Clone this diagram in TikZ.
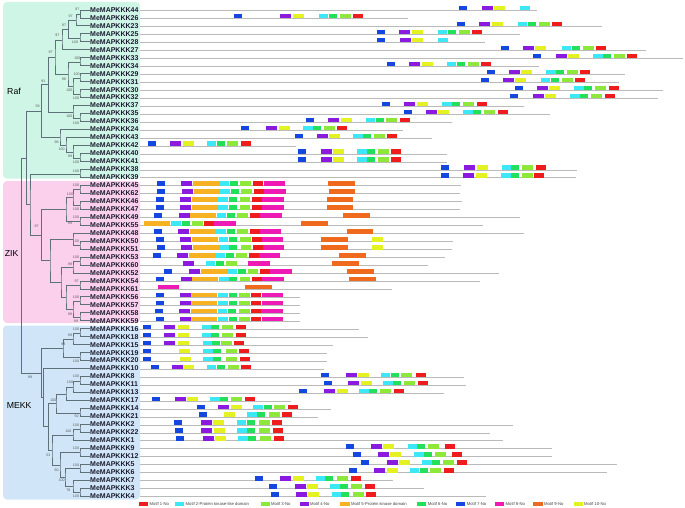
\documentclass[tikz,border=0pt]{standalone}
\usepackage{fontspec}
\setmainfont{Liberation Sans}
\usetikzlibrary{calc}
\definecolor{m1}{HTML}{EE1C1C}
\definecolor{m2}{HTML}{3CE8F5}
\definecolor{m3}{HTML}{8EE83A}
\definecolor{m4}{HTML}{8A1AE0}
\definecolor{m5}{HTML}{F7B223}
\definecolor{m6}{HTML}{22E05A}
\definecolor{m7}{HTML}{1446E0}
\definecolor{m8}{HTML}{EE1AB4}
\definecolor{m9}{HTML}{F06A1E}
\definecolor{m10}{HTML}{E4F222}
\definecolor{rafbg}{HTML}{CFF5E6}
\definecolor{zikbg}{HTML}{FAD0EC}
\definecolor{mekkbg}{HTML}{D0E6F8}
\definecolor{treec}{HTML}{5E7078}
\definecolor{labc}{HTML}{1C1C30}
\pgfmathdeclarefunction{ry}{1}{\pgfmathparse{10.5+(#1-1)*7.97}}
\newcommand\mtf[4]{\ifdim #3pt>0pt \pgfmathsetmacro\yy{10.5+(#2-1)*7.97}\fill[#1] (#3,\yy-4.5) rectangle ++(#4,4.5);\fi}
\newcommand\rr[8]{\mtf{m7}{#1}{#2}{8}\mtf{m4}{#1}{#3}{11}\mtf{m10}{#1}{#4}{11}\mtf{m2}{#1}{#5}{9.5}\mtf{m6}{#1}{#6}{8}\mtf{m3}{#1}{#7}{11}\mtf{m1}{#1}{#8}{10}}
\newcommand\zz[9]{\mtf{m7}{#1}{#2}{8}\mtf{m4}{#1}{#3}{11}\mtf{m5}{#1}{#4}{26}\mtf{m2}{#1}{#5}{9.5}\mtf{m6}{#1}{#6}{8}\mtf{m3}{#1}{#7}{10.5}\mtf{m1}{#1}{#8}{10}\mtf{m8}{#1}{#9}{21.5}}
\newcommand\jn[5]{\coordinate (#1) at (#2,{ry(#3)}); \draw[tree] (#4) -| (#1) |- (#5);}
\tikzset{
  lab/.style={anchor=west,inner sep=0.5pt,text=labc,font=\fontsize{7}{8}\selectfont\bfseries},
  bs/.style={inner sep=0pt,text=black!65,font=\fontsize{3.6}{4}\selectfont},
  clab/.style={inner sep=0pt,font=\fontsize{8.7}{10}\selectfont},
  tree/.style={draw=treec,line width=0.7pt},
  gline/.style={draw=black!27,line width=0.8pt},
  legt/.style={anchor=west,inner sep=0pt,text=black!75,font=\fontsize{4.2}{5}\selectfont}
}
\begin{document}
\begin{tikzpicture}[x=1pt,y=-1pt]
\useasboundingbox (0,0) rectangle (685,508);
% clade backgrounds
\fill[rafbg,rounded corners=4] (3,2) rectangle (140,178.5);
\fill[zikbg,rounded corners=4] (3,181) rectangle (140,323);
\fill[mekkbg,rounded corners=4] (3,325.5) rectangle (140,499.5);
\node[clab] (tRaf) at (14,91) {Raf};
\node[clab] (tZIK) at (11.7,253.3) {ZIK};
\node[clab] (tMEKK) at (19.2,406) {MEKK};
% gene lines
\foreach \L [count=\i] in {536.7,407.7,601.7,520,485,645.7,683,539.3,625,619.3,663.3,658.3,524,550,451.7,402.7,432,296,446.7,446.7,576.7,575.7,460.5,460,462,460,520,482.7,524,453.3,452.3,445,427.7,499.3,480,391.7,300,300,300,300,358.7,367.7,332.7,326.7,326.7,324,463.7,465.7,443.7,290.7,330.7,318.3,513.3,490,502.7,551.7,552,617.3,606.7,393.3,424,486}
  \draw[gline] (140,{ry(\i)}) -- (\L,{ry(\i)});
% labels
\foreach \g [count=\i] in {44,26,23,25,28,27,33,34,29,31,30,32,37,35,36,24,43,42,40,41,38,39,45,62,46,47,49,55,48,50,51,53,60,52,54,61,56,57,58,59,16,18,15,19,20,10,8,11,13,17,14,21,2,22,1,9,12,5,6,7,3,4}
  \node[lab] (g\g) at (89.5,{ry(\i)-0.6}) {MeMAPKKK\g};
% Raf motifs
\rr{1}{459.3}{481.7}{494}{520}{0}{0}{0}
\rr{2}{234}{280}{292.7}{318.7}{328.7}{340}{353}
\rr{3}{457}{479.3}{491.7}{517.7}{527.7}{539}{552.3}
\rr{4}{377}{399.3}{411.7}{437.7}{447.7}{459.3}{472.3}
\rr{5}{377}{399.7}{411.7}{438.3}{0}{0}{0}
\rr{6}{501}{523}{535.3}{561.7}{571.7}{582.7}{595.7}
\rr{7}{533.3}{555.7}{568.3}{593}{602.7}{614.3}{627.3}
\rr{8}{387}{409.3}{421.7}{446.7}{456.7}{468.3}{481}
\rr{9}{486.7}{508.7}{521}{546}{556}{567.3}{580.3}
\rr{10}{481}{503}{515.3}{540.7}{550.7}{561.7}{575}
\rr{11}{514.7}{537}{549.3}{574.3}{584.3}{595.3}{609}
\rr{12}{510.3}{532.7}{545}{570}{580}{591}{604.7}
\rr{13}{382.3}{404.3}{416.7}{442}{452}{463.3}{476.7}
\rr{14}{403.7}{426}{438.3}{463.3}{473.3}{484.3}{497.7}
\rr{15}{305.7}{328}{340.7}{365.7}{375.7}{386.3}{400}
\rr{16}{241}{266.3}{278.7}{303}{313}{324}{337.3}
\rr{17}{294.7}{317}{329.3}{353}{363}{374}{387}
\rr{18}{148.3}{170.3}{182.7}{206.7}{216.7}{227.3}{240.7}
\rr{19}{298.3}{321}{333.3}{357}{367}{378}{391.3}
\rr{20}{298.3}{321}{333.3}{357}{367}{378}{391.3}
\rr{21}{441.3}{464}{476.7}{501.7}{511.3}{522.3}{535.7}
\rr{22}{440.7}{463.3}{476}{501}{511}{522}{534.3}
% ZIK motifs
\zz{23}{156.7}{181.3}{193}{219.3}{230}{240.3}{253.3}{263.7}\mtf{m9}{23}{328}{26.5}
\zz{24}{157.3}{182}{193.7}{220}{230.7}{241}{254}{264}\mtf{m9}{24}{328.7}{26.5}
\zz{25}{155.7}{180.3}{192}{218.3}{229}{239.7}{252.3}{262.3}\mtf{m9}{25}{326.7}{26.5}
\zz{26}{155.7}{180.3}{192}{218.3}{229}{239.7}{252.3}{262.3}\mtf{m9}{26}{326.7}{26.5}
\zz{27}{154}{178.7}{190.3}{216.7}{227.3}{237.3}{250}{260}\mtf{m9}{27}{343}{26.5}
\zz{28}{0}{0}{144}{171}{181.7}{192}{204.3}{214.3}\mtf{m9}{28}{301.3}{26.5}
\zz{29}{154}{178}{189.7}{216.3}{226.7}{237.3}{249.7}{259.7}\mtf{m9}{29}{346.7}{26.5}
\zz{30}{156}{180}{191.7}{218.7}{228.7}{240}{252}{261.7}\mtf{m9}{30}{321}{26.5}\mtf{m10}{30}{372.3}{10.7}
\zz{31}{156.7}{180.7}{192.7}{219.3}{229.3}{240.7}{253}{262.7}\mtf{m9}{31}{321}{26.5}\mtf{m10}{31}{372.3}{10.7}
\zz{32}{152.7}{177}{188.7}{215.3}{226}{236}{248.7}{258.7}\mtf{m9}{32}{339.3}{26.5}
\zz{33}{0}{183}{0}{205.7}{216}{226.3}{0}{248.3}\mtf{m9}{33}{332}{26.5}
\zz{34}{164.3}{189}{200.7}{227.3}{237.7}{247.7}{260}{270.3}\mtf{m9}{34}{347}{26.5}
\zz{35}{156}{180.7}{192.3}{219}{229.3}{239.7}{252}{262}\mtf{m9}{35}{349.3}{26.5}
\zz{36}{0}{0}{0}{0}{0}{0}{0}{157.7}\mtf{m9}{36}{245}{26.5}
\zz{37}{155.7}{179.7}{191.3}{218}{228.7}{239.3}{251.3}{261.7}
\zz{38}{155.7}{179.7}{191.3}{218}{228.7}{239.3}{251.3}{261.7}
\zz{39}{155.3}{179.3}{191}{217.7}{228.3}{239}{251}{261.3}
\zz{40}{155.7}{179.7}{191.3}{218}{228.7}{239.3}{251.3}{261.7}
% MEKK motifs
\rr{41}{143.3}{164}{178}{202}{211}{222}{235.7}
\rr{42}{143.3}{164}{178}{202}{211}{222}{235.7}
\rr{43}{143.3}{164}{178}{202.7}{212}{221}{234.3}
\rr{44}{142.7}{0}{179}{203}{213}{225.7}{239}
\rr{45}{143.3}{0}{180}{203.3}{213.3}{226.3}{239.7}
\rr{46}{150.7}{171.7}{183.3}{206.7}{217}{228}{241.3}
\rr{47}{321}{345.7}{358.3}{380.7}{390.7}{401.3}{415.7}
\rr{48}{323.7}{348}{360.7}{383.3}{393.3}{404.3}{418}
\rr{49}{299.3}{324}{336.7}{359.3}{369.3}{379.7}{394}
\rr{50}{152}{175}{187.3}{210.3}{220.3}{231}{244.7}
\rr{51}{196.7}{218.3}{231}{253.3}{263.7}{274}{288.3}
\rr{52}{199}{0}{224.3}{247.3}{257.3}{269}{282}
\rr{53}{174.3}{201}{213.3}{236.7}{246.7}{258.7}{272}
\rr{54}{175}{201.3}{214}{237.3}{247.3}{259.3}{272.7}
\rr{55}{176}{202.7}{215}{238.3}{248.3}{260}{274}
\rr{56}{346}{371}{383.3}{407.5}{417.3}{428}{445}
\rr{57}{352.7}{378}{390.3}{414.3}{424.3}{435}{451.7}
\rr{58}{361.3}{386.7}{399}{422}{432}{443}{456.7}
\rr{59}{348.7}{374}{386.7}{409.5}{419.7}{430.3}{444.3}
\rr{60}{255.3}{280}{292.7}{315.7}{325.3}{337}{350.7}
\rr{61}{269.3}{294.7}{307}{330}{339.7}{351}{364.7}
\rr{62}{271}{296}{308.3}{331.7}{341.3}{352.7}{366.3}
% tree: Raf
\jn{a1}{80.5}{1.5}{g44.west}{g26.west}
\jn{a2}{76}{2.25}{a1}{g23.west}
\jn{a3}{80}{4.5}{g25.west}{g28.west}
\jn{a4}{68.5}{3.375}{a2}{a3}
\jn{a5}{62}{4.69}{a4}{g27.west}
\jn{b1}{80}{7.5}{g33.west}{g34.west}
\jn{b2}{80}{9.5}{g29.west}{g31.west}
\jn{b3}{80}{11.5}{g30.west}{g32.west}
\jn{b4}{73}{10.5}{b2}{b3}
\jn{b5}{68}{9}{b1}{b4}
\jn{ab}{55}{6.84}{a5}{b5}
\jn{c1}{80}{14.5}{g35.west}{g36.west}
\jn{c2}{73}{13.75}{g37.west}{c1}
\jn{abc}{48.3}{10.3}{ab}{c2}
\jn{d1}{80}{19.5}{g40.west}{g41.west}
\jn{d2}{73}{18.75}{g42.west}{d1}
\jn{d3}{66}{17.875}{g43.west}{d2}
\jn{d4}{60}{16.94}{g24.west}{d3}
\jn{abcd}{41.7}{13.62}{abc}{d4}
\jn{e1}{80}{21.5}{g38.west}{g39.west}
% tree: ZIK
\jn{z1}{80}{23.5}{g45.west}{g62.west}
\jn{z2}{80}{25.5}{g46.west}{g47.west}
\jn{z3}{73}{24.5}{z1}{z2}
\jn{z4}{80}{27.5}{g49.west}{g55.west}
\jn{z5}{66}{26}{z3}{z4}
\jn{z6}{80}{30.5}{g50.west}{g51.west}
\jn{z7}{73}{29.75}{g48.west}{z6}
\jn{z8}{80}{32.5}{g53.west}{g60.west}
\jn{z9}{73}{33.25}{z8}{g52.west}
\jn{z10}{80}{35.5}{g54.west}{g61.west}
\jn{z11}{80}{37.5}{g56.west}{g57.west}
\jn{z12}{80}{39.5}{g58.west}{g59.west}
\jn{z13}{73}{38.5}{z11}{z12}
\jn{z14}{66}{37}{z10}{z13}
\jn{z15}{61}{35.1}{z9}{z14}
\jn{z16}{50}{32.4}{z7}{z15}
\jn{zik}{41.7}{29.2}{z5}{z16}
\jn{xz}{30}{25.35}{e1}{zik}
\jn{rz}{26.7}{19.5}{abcd}{xz}
% tree: MEKK
\jn{k1}{80}{41.5}{g16.west}{g18.west}
\jn{k2}{73}{42.25}{k1}{g15.west}
\jn{k3}{80}{44.5}{g19.west}{g20.west}
\jn{k4}{63}{43.4}{k2}{k3}
\jn{k5}{80}{47.5}{g8.west}{g11.west}
\jn{k6}{73}{48.25}{k5}{g13.west}
\jn{k7}{66}{49.1}{k6}{g17.west}
\jn{k8}{80}{51.5}{g14.west}{g21.west}
\jn{k9}{56}{50.3}{k7}{k8}
\jn{k10}{80}{53.5}{g2.west}{g22.west}
\jn{k11}{73}{54.25}{k10}{g1.west}
\jn{k12}{80}{56.5}{g9.west}{g12.west}
\jn{k13}{80}{58.5}{g5.west}{g6.west}
\jn{k14}{80}{61.5}{g3.west}{g4.west}
\jn{k15}{73}{60.75}{g7.west}{k14}
\jn{k16}{65}{59.6}{k13}{k15}
\jn{k17}{60}{58.1}{k12}{k16}
\jn{k18}{52}{56.2}{k11}{k17}
\jn{k19}{48.3}{53.2}{k9}{k18}
\jn{k20}{43.3}{49.6}{g10.west}{k19}
\jn{mekk}{41.7}{46.5}{k4}{k20}
% root
\jn{root}{21.7}{33}{rz}{mekk}
% bootstrap values
\foreach \x/\y/\t [count=\n] in {77.3/9/87,70.7/16.3/97,64/25.3/97,75/42.3/100,57.3/35.7/97,50.7/52.7/97,77.3/58/100,64/79/96,76.7/74/100,69.3/90/100,76/98.7/100,43.3/81/91,37.7/106.7/58,69.3/116.7/100,76/123.3/100,56.7/142.3/98,61.7/149.3/100,70/156.7/99,76/162.7/100,76/171/100,
76/185/100,70/194.3/100,76/209.3/100,76/217.3/100,70/223.3/99,36.7/226.7/97,76/241/100,76/257.3/100,70/264.3/99,76.7/281/97,76/297/100,70/314.3/98,76/321.7/99,
76/329.3/100,70/335/99,63.3/344/93,76/361.7/100,30/377.3/99,76/376.7/100,70/382.7/100,53.3/400/100,76.7/416.7/50,76/425/100,68.3/431.7/100,76/448.3/100,48.3/455/53,76/465/100,56.7/470/60,61.7/480.7/100,68.3/490/78,76/496.7/100}
  \node[bs] (bs\n) at (\x,\y) {\t};
% legend
\foreach \c/\x/\t [count=\n] in {m1/139/Motif 1-No,m2/175/Motif 2-Protein kinase-like domain,m3/260.5/Motif 3-No,m4/299.5/Motif 4-No,m5/340.4/Motif 5-Protein kinase domain,m6/417.2/Motif 6-No,m7/456.2/Motif 7-No,m8/495/Motif 8-No,m9/533.4/Motif 9-No,m10/573.5/Motif 10-No}{
  \fill[\c] (\x,502.3) rectangle ++(9.2,4);
  \node[legt] (leg\n) at (\x+10.5,504.3) {\t};
}
\end{tikzpicture}
\end{document}
